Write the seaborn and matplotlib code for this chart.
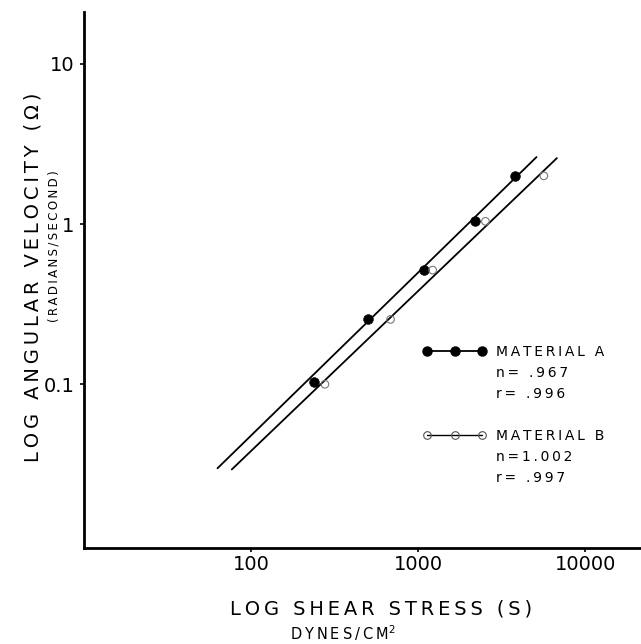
import matplotlib
matplotlib.use("Agg")
import matplotlib.pyplot as plt
import seaborn as sns
import pandas as pd
from matplotlib.lines import Line2D

# Data
a_stress = [237, 499, 1079, 2194, 3810]
a_vel = [0.104, 0.254, 0.516, 1.04, 2.0]
b_stress = [277, 684, 1222, 2530, 5660]
b_vel = [0.100, 0.254, 0.516, 1.04, 2.0]
a_fit_x = [63, 5118]
a_fit_y = [0.0299, 2.62]
b_fit_x = [76.7, 6776]
b_fit_y = [0.0294, 2.58]
x_ticks = [100, 1000, 10000]
x_tick_labels = ["100", "1000", "10000"]
y_ticks = [0.1, 1, 10]
y_tick_labels = ["0.1", "1", "10"]
legend_labels = ["MATERIAL A", "n= .967", "r= .996", "", "MATERIAL B", "n=1.002", "r= .997"]

sns.set_theme(style="white")
plt.rcParams['font.family'] = ['DejaVu Sans']
for k in ["text.color", "axes.labelcolor", "xtick.color", "ytick.color"]:
    plt.rcParams[k] = "black"

TS = "\u2009"
def spaced(s):
    return TS.join(list(s))

fig = plt.figure(figsize=(6.41, 6.44), dpi=100)
ax = fig.add_axes([0.131, 0.149, 0.869, 0.832])

dfa = pd.DataFrame({"x": a_stress, "y": a_vel})
dfb = pd.DataFrame({"x": b_stress, "y": b_vel})
fa = pd.DataFrame({"x": a_fit_x, "y": a_fit_y})
fb = pd.DataFrame({"x": b_fit_x, "y": b_fit_y})

sns.lineplot(data=fa, x="x", y="y", ax=ax, color="black", lw=1.3, estimator=None, sort=False)
sns.lineplot(data=fb, x="x", y="y", ax=ax, color="black", lw=1.3, estimator=None, sort=False)
sns.scatterplot(data=dfa, x="x", y="y", ax=ax, s=48, color="black", edgecolor="black", linewidth=0.5, zorder=5)
sns.scatterplot(data=dfb, x="x", y="y", ax=ax, s=30, facecolor="none", edgecolor="#777777", linewidth=0.8, zorder=5)

ax.set_xscale("log")
ax.set_yscale("log")
ax.set_xlim(10, 21600)
ax.set_ylim(0.0095, 21)
ax.set_xticks(x_ticks)
ax.set_xticklabels(x_tick_labels, fontsize=14)
ax.set_yticks(y_ticks)
ax.set_yticklabels(y_tick_labels, fontsize=14)
ax.minorticks_off()
ax.tick_params(axis="x", direction="out", length=3, width=1.2, color="black", pad=2, bottom=True)
ax.tick_params(axis="y", direction="out", length=3, width=1.2, color="black", pad=4, left=True)
ax.set_xlabel("")
ax.set_ylabel("")
for s in ["top", "right"]:
    ax.spines[s].set_visible(False)
for s in ["left", "bottom"]:
    ax.spines[s].set_linewidth(2.0)
    ax.spines[s].set_color("black")

# Legend
ha = Line2D([], [], color="black", lw=1.3, marker="o", markersize=6.5, markerfacecolor="black", markeredgecolor="black")
hb = Line2D([], [], color="black", lw=1.0, marker="o", markersize=5.5, markerfacecolor="none", markeredgecolor="#555555", markeredgewidth=0.8)
blank = Line2D([], [], linestyle="none", marker=None)
handles = [ha, blank, blank, blank, hb, blank, blank]
leg = ax.legend(handles, [spaced(l) for l in legend_labels], loc="upper left", bbox_to_anchor=(0.598, 0.389),
                numpoints=3, handlelength=4.6, handletextpad=0.7, labelspacing=0.5,
                frameon=False, fontsize=10, borderaxespad=0)

# Axis titles
fig.text(0.594, 0.054, spaced("LOG SHEAR STRESS (S)"), ha="center", va="center", fontsize=14)
fig.text(0.535, 0.017, spaced("DYNES/CM") + "$^2$", ha="center", va="center", fontsize=10.5)
fig.text(0.051, 0.570, spaced("LOG ANGULAR VELOCITY (\u03a9)"), ha="center", va="center", rotation=90, fontsize=14)
fig.text(0.084, 0.618, spaced("(RADIANS/SECOND)"), ha="center", va="center", rotation=90, fontsize=8.5)

fig.savefig("out.png", dpi=100, facecolor="white")
